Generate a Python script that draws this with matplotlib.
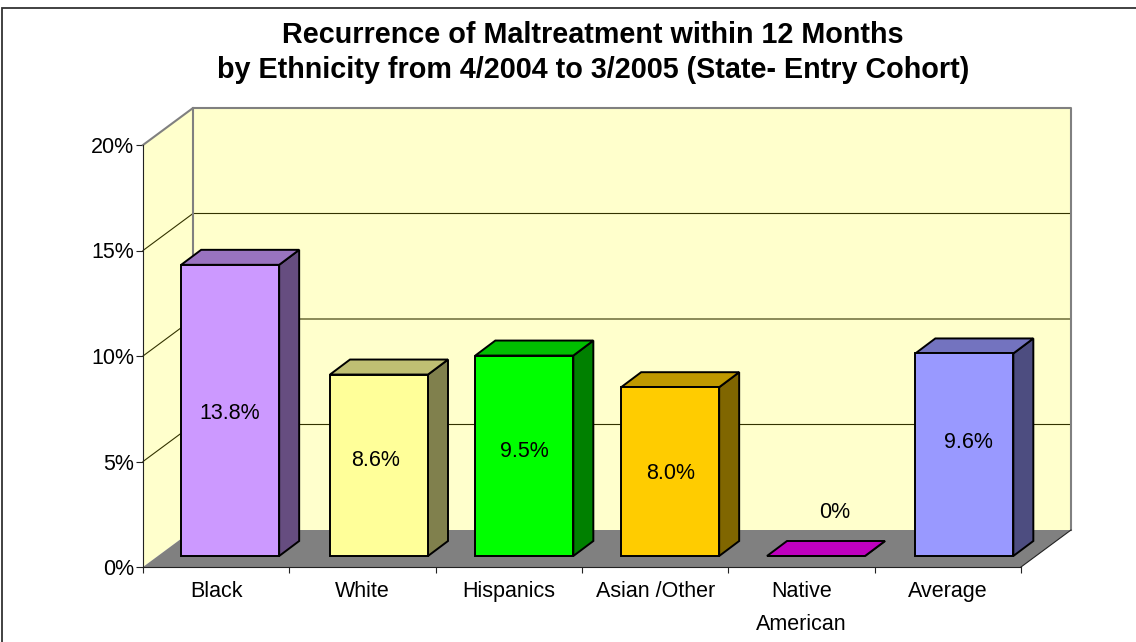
import matplotlib
matplotlib.use('Agg')
import matplotlib.pyplot as plt
from matplotlib.colors import to_rgb
from matplotlib.patches import Polygon, Rectangle

plt.rcParams['font.family'] = ['Liberation Sans', 'DejaVu Sans']

Categories = ['Black', 'White', 'Hispanics', 'Asian /Other', 'Native\nAmerican', 'Average']
Values = [13.8, 8.6, 9.5, 8.0, 0, 9.6]
ValueLabels = ['13.8%', '8.6%', '9.5%', '8.0%', '0%', '9.6%']
BarColors = ['#CC99FF', '#FFFF99', '#00FF00', '#FFCC00', '#FF00FF', '#9999FF']
YTicks = [0, 5, 10, 15, 20]
TitleText = 'Recurrence of Maltreatment within 12 Months\nby Ethnicity from 4/2004 to 3/2005 (State- Entry Cohort)'

W, H = 1136, 642
PlotL, PlotR, PlotTop, PlotBot = 143, 1021, 145, 567
PxX = (PlotR - PlotL) / 6.0
PxY = (PlotBot - PlotTop) / 20.0

# depth of the 3D box and of the bars, px turned into data units
WallDx, WallDy = 50 / PxX, 37 / PxY
BarDx, BarDy = 20 / PxX, 15 / PxY
BarBase = 11 / PxY
BarShift = 14 / PxX
BarWidth = 98 / PxX

# small hand nudges in px, the original renderer rounds its bars and labels unevenly
BarNudge = [0, 2.5, 1.5, 1, 0.5, 2.5]
LabelNudge = [(0, -3), (-3, 5), (0, 4), (0, -2), (19, 43), (4, 12)]


def Shade(Color, F):
    return tuple(c * F for c in to_rgb(Color))


def AddPoly(ax, Pts, Face, Edge='none', Lw=0, Z=1):
    ax.add_patch(Polygon(Pts, closed=True, facecolor=Face, edgecolor=Edge,
                         linewidth=Lw, zorder=Z, clip_on=False, joinstyle='miter'))


fig = plt.figure(figsize=(W / 100, H / 100), dpi=100, facecolor='white')
ax = fig.add_axes([PlotL / W, 1 - PlotBot / H, (PlotR - PlotL) / W, (PlotBot - PlotTop) / H])
ax.set_xlim(0, 6)
ax.set_ylim(0, 20)
ax.patch.set_visible(False)

# outer chart border
fig.add_artist(Rectangle((1.5 / W, -0.1), 1.2, 1.1 - 7.5 / H, transform=fig.transFigure,
                         fill=False, edgecolor='#333333', linewidth=1.3))

# walls and floor
AddPoly(ax, [(0, 0), (WallDx, WallDy), (WallDx, 20 + WallDy), (0, 20)], '#FFFFCC')
AddPoly(ax, [(WallDx, WallDy), (6 + WallDx, WallDy), (6 + WallDx, 20 + WallDy), (WallDx, 20 + WallDy)], '#FFFFCC')
AddPoly(ax, [(0, 0), (6, 0), (6 + WallDx, WallDy), (WallDx, WallDy)], '#808080')

for T in YTicks[1:-1]:
    ax.plot([0, WallDx, 6 + WallDx], [T, T + WallDy, T + WallDy], color='#333300', lw=0.8,
            zorder=2, clip_on=False)
ax.plot([0, WallDx, 6 + WallDx, 6 + WallDx], [20, 20 + WallDy, 20 + WallDy, WallDy],
        color='#808080', lw=1.5, zorder=2, clip_on=False)
ax.plot([WallDx, WallDx], [WallDy, 20 + WallDy], color='#808080', lw=1.5, zorder=2, clip_on=False)
ax.plot([6, 6 + WallDx], [0, WallDy], color='#222222', lw=0.8, zorder=2, clip_on=False)

# bars
for I, (V, Color) in enumerate(zip(Values, BarColors)):
    L = I + 0.5 + BarShift - BarWidth / 2 + BarNudge[I] / PxX
    R = L + BarWidth
    B = BarBase
    T = BarBase + V
    Z = 3 + I
    AddPoly(ax, [(R, B), (R + BarDx, B + BarDy), (R + BarDx, T + BarDy), (R, T)], Shade(Color, 0.5), 'black', 1.4, Z)
    AddPoly(ax, [(L, T), (R, T), (R + BarDx, T + BarDy), (L + BarDx, T + BarDy)], Shade(Color, 0.75), 'black', 1.4, Z)
    AddPoly(ax, [(L, B), (R, B), (R, T), (L, T)], Color, 'black', 1.4, Z)
    Nx, Ny = LabelNudge[I]
    ax.annotate(ValueLabels[I], ((L + R) / 2, B + V / 2), xytext=(Nx * 0.72, Ny * 0.72),
                textcoords='offset points', ha='center', va='center', fontsize=15.5,
                color='black', zorder=20)

# axes
for S in ['top', 'right']:
    ax.spines[S].set_visible(False)
for S in ['left', 'bottom']:
    ax.spines[S].set_color('#222222')
    ax.spines[S].set_linewidth(0.8)
    ax.spines[S].set_zorder(2.5)
ax.set_yticks(YTicks)
ax.set_yticklabels(['%d%%' % T for T in YTicks], fontsize=15.5)
ax.tick_params(axis='y', length=5, width=0.8, pad=1.5, color='#222222')
ax.set_xticks(range(7))
ax.set_xticklabels([])
ax.tick_params(axis='x', which='major', length=4.5, width=0.8, color='#222222')
ax.set_xticks([I + 0.5 for I in range(6)], minor=True)
ax.set_xticklabels(Categories, minor=True, fontsize=15.5)
ax.tick_params(axis='x', which='minor', length=0, pad=10)
for Lab in ax.get_xticklabels(minor=True):
    Lab.set_linespacing(1.75)

fig.text(0.522, 1 - 52.5 / H, TitleText, ha='center', va='center', fontsize=20.7, fontweight='bold',
         linespacing=1.33, color='black')

plt.savefig('out.png', dpi=100)
plt.close()
